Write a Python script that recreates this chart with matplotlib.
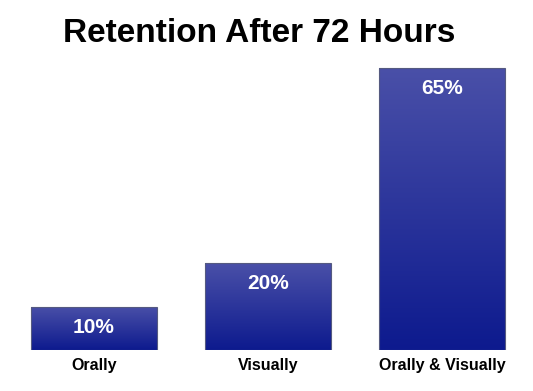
import numpy as np
import matplotlib
matplotlib.use("Agg")
import matplotlib.pyplot as plt
from matplotlib.colors import LinearSegmentedColormap

categories = ["Orally", "Visually", "Orally & Visually"]
retention = [10, 20, 65]
value_labels = ["10%", "20%", "65%"]

plt.rcParams['font.family'] = ['Liberation Sans', 'DejaVu Sans']

fig = plt.figure(figsize=(5.33, 3.91), dpi=100)
ax = fig.add_axes([7 / 533, 41 / 391, 522 / 533, 310 / 391])

x = np.arange(len(categories))
bars = ax.bar(x, retention, width=0.72, color='none', edgecolor='#555a80', linewidth=0.8)

# vertical gradient, lighter on top, darker at the bottom
grad = LinearSegmentedColormap.from_list('g', ['#0d1a8e', '#4a50a8'])
for b in bars:
    x0, y0 = b.get_x(), b.get_y()
    w, h = b.get_width(), b.get_height()
    img = ax.imshow(np.linspace(0, 1, 256).reshape(-1, 1), cmap=grad, origin='lower',
                    extent=[x0, x0 + w, y0, y0 + h], aspect='auto', zorder=1)
    img.set_clip_path(b)
    b.set_zorder(2)

for i, v in enumerate(retention):
    ax.annotate(value_labels[i], (x[i], v), xytext=(0, -8), textcoords='offset points',
                ha='center', va='top', color='white', fontsize=15, fontweight='bold', zorder=3)

ax.set_xlim(-0.5, 2.5)
ax.set_ylim(0, 310 / 4.34)
ax.set_xticks(x)
ax.set_xticklabels(categories, fontsize=11.5, fontweight='bold')
ax.tick_params(axis='x', length=0, pad=6)
ax.set_yticks([])
for s in ax.spines.values():
    s.set_visible(False)

fig.text(259 / 533, 1 - 33 / 391, "Retention After 72 Hours", ha='center', va='center',
         fontsize=24, fontweight='bold')

fig.savefig("out.png", dpi=100)
